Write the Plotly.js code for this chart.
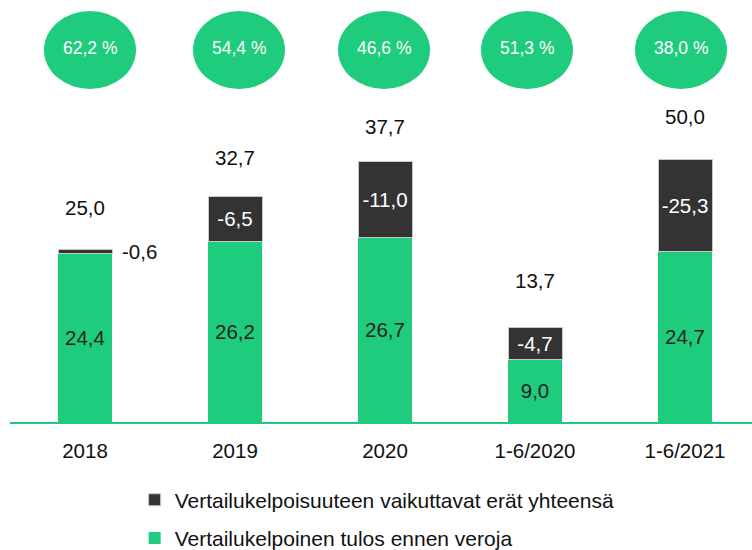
<!DOCTYPE html>
<html>
<head>
<meta charset="utf-8">
<script src="https://cdn.plot.ly/plotly-3.0.1.min.js"></script>
<style>html,body{margin:0;padding:0;background:#fff;}#chart{width:752px;height:550px;}</style>
</head>
<body>
<div id="chart"></div>
<script>
// ---- data ----
const categories = ['2018', '2019', '2020', '1-6/2020', '1-6/2021'];
const comparableProfit = [24.4, 26.2, 26.7, 9.0, 24.7];          // green segment
const itemsLabels = [-0.6, -6.5, -11.0, -4.7, -25.3];             // labelled value of dark segment
const itemsDrawn = [0.6, 6.5, 11.0, 4.7, 13.4];                   // dark segment height as drawn
const totals = [25.0, 32.7, 37.7, 13.7, 50.0];
const shares = [62.2, 54.4, 46.6, 51.3, 38.0];
const seriesNames = ['Vertailukelpoinen tulos ennen veroja', 'Vertailukelpoisuuteen vaikuttavat erät yhteensä'];

// ---- style ----
const GREEN = '#1fcc7d';
const DARK = '#333333';
const FONT = 'Liberation Sans, Arial, sans-serif';
const fmt = v => v.toFixed(1).replace('.', ',');
const totalLift = [42, 39, 35, 47, 43];
const ellipseShift = [5, 4, -1, -8, -4];

const traces = [
  {
    type: 'bar', name: seriesNames[0], x: categories, y: comparableProfit,
    marker: {color: GREEN, line: {width: 0}},
    width: 0.36,
    text: comparableProfit.map(fmt), textposition: 'inside', insidetextanchor: 'middle',
    textangle: 0, constraintext: 'none',
    textfont: {family: FONT, size: 20.5, color: '#222222'},
    hoverinfo: 'skip', cliponaxis: false, legendgroup: 'a', legendrank: 2
  },
  {
    type: 'bar', name: seriesNames[1], x: categories, y: itemsDrawn,
    marker: {color: DARK, line: {width: 1, color: '#c8c8c8'}},
    width: 0.36,
    text: itemsLabels.map((v, i) => i === 0 ? '' : fmt(v)), textposition: 'inside', insidetextanchor: 'middle',
    textangle: 0, constraintext: 'none',
    textfont: {family: FONT, size: 20.5, color: '#ffffff'},
    hoverinfo: 'skip', cliponaxis: false, legendgroup: 'b', legendrank: 1
  }
];

const annotations = [];
const shapes = [];
categories.forEach((c, i) => {
  const top = comparableProfit[i] + itemsDrawn[i];
  annotations.push({
    x: i, y: top, xref: 'x', yref: 'y', text: fmt(totals[i]), showarrow: false,
    yanchor: 'middle', yshift: totalLift[i],
    font: {family: FONT, size: 20.5, color: '#111111'}
  });
  shapes.push({
    type: 'circle', xref: 'x', yref: 'paper', xsizemode: 'pixel', ysizemode: 'pixel',
    xanchor: i, yanchor: 1,
    x0: -46 + ellipseShift[i], x1: 46 + ellipseShift[i], y0: -89, y1: -11,
    fillcolor: GREEN, line: {width: 0}, layer: 'above'
  });
  annotations.push({
    x: i, y: 1, xref: 'x', yref: 'paper', text: fmt(shares[i]) + ' %', showarrow: false,
    yanchor: 'middle', yshift: -48, xshift: ellipseShift[i],
    font: {family: FONT, size: 17.5, color: '#ffffff'}
  });
});
// label for the thin 2018 dark segment, placed beside the bar
annotations.push({
  x: 0, y: comparableProfit[0] + itemsDrawn[0] / 2, xref: 'x', yref: 'y',
  text: fmt(itemsLabels[0]), showarrow: false, xanchor: 'left', xshift: 35, yanchor: 'middle',
  font: {family: FONT, size: 20.5, color: '#111111'}
});

const layout = {
  width: 752, height: 550,
  margin: {l: 10, r: 0, t: 0, b: 128, autoexpand: false},
  paper_bgcolor: '#ffffff', plot_bgcolor: '#ffffff',
  barmode: 'stack',
  bargap: 0.64,
  showlegend: true,
  legend: {
    orientation: 'v', x: 0.168, xanchor: 'left',
    yref: 'container', y: 0.128, yanchor: 'top',
    traceorder: 'grouped',
    font: {family: FONT, size: 21, color: '#111111'},
    tracegroupgap: 8, itemclick: false, itemdoubleclick: false
  },
  xaxis: {
    type: 'category', range: [-0.5, 4.4467], showgrid: false, zeroline: false,
    showline: true, linecolor: GREEN, linewidth: 2, ticks: '', ticklabelstandoff: 9,
    tickfont: {family: FONT, size: 20.5, color: '#111111'}, fixedrange: true
  },
  yaxis: {range: [0, 61.16], visible: false, fixedrange: true},
  annotations: annotations,
  shapes: shapes,
  font: {family: FONT}
};

Plotly.newPlot('chart', traces, layout, {displayModeBar: false, staticPlot: true});
</script>
</body>
</html>
